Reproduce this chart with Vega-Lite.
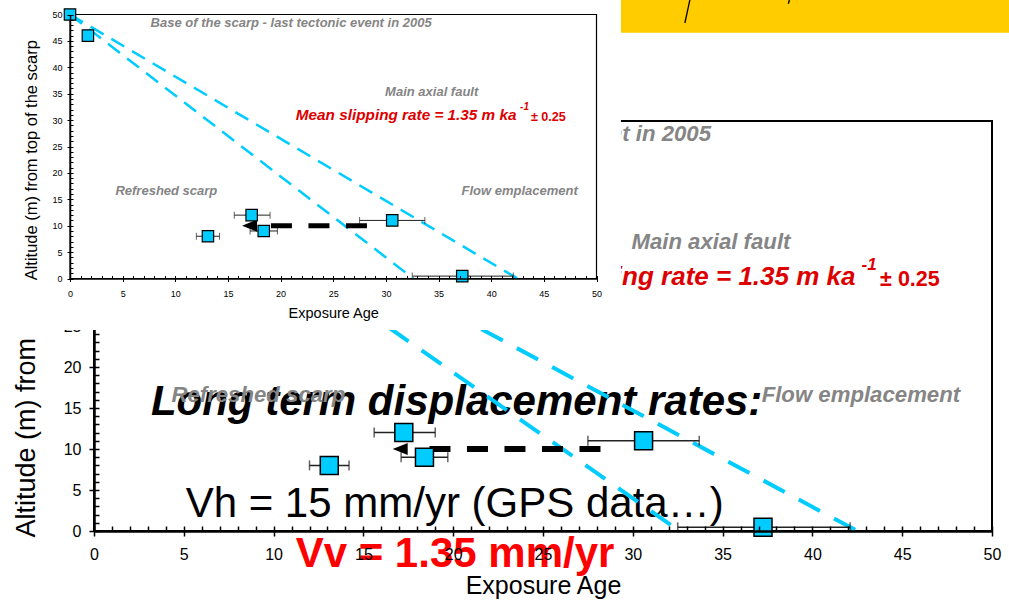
{
  "$schema": "https://vega.github.io/schema/vega-lite/v6.json",
  "width": 898,
  "height": 410,
  "autosize": "none",
  "padding": {"left": 94, "top": 121, "right": 17, "bottom": 75},
  "background": "white",
  "config": {
    "font": "Liberation Sans",
    "view": {"stroke": "black", "strokeWidth": 2},
    "axis": {"grid": false, "domainColor": "black", "tickColor": "black", "labelColor": "black", "titleColor": "black", "titleFontWeight": "normal", "labelFont": "Liberation Sans", "titleFont": "Liberation Sans", "labelOverlap": false, "labelFlush": false}
  },
  "datasets": {
    "points": [
      {"age": 0, "alt": 50}, {"age": 1.7, "alt": 46}, {"age": 13.1, "alt": 8}, {"age": 17.25, "alt": 12},
      {"age": 18.4, "alt": 9}, {"age": 30.6, "alt": 11}, {"age": 37.25, "alt": 0.45}
    ],
    "errors": [
      {"age": 13.1, "alt": 8, "lo": 12.0, "hi": 14.2},
      {"age": 17.25, "alt": 12, "lo": 15.6, "hi": 19.0},
      {"age": 18.4, "alt": 9, "lo": 17.1, "hi": 19.7},
      {"age": 30.6, "alt": 11, "lo": 27.5, "hi": 33.7},
      {"age": 37.25, "alt": 0.45, "lo": 32.5, "hi": 42.1}
    ],
    "rates": [
      {"bound": "max rate", "age": 0, "alt": 50}, {"bound": "max rate", "age": 32.6, "alt": 0},
      {"bound": "min rate", "age": 0, "alt": 50}, {"bound": "min rate", "age": 42.5, "alt": 0}
    ],
    "shift": [{"age": 17.8, "alt": 10}, {"age": 28.2, "alt": 10}],
    "shiftHead": [{"age": 17.05, "alt": 10}],
    "notes": [
      {"label": "Base of the scarp - last tectonic event in 2005", "age": 21.0, "alt": 48.45},
      {"label": "Main axial fault", "age": 34.35, "alt": 35.3},
      {"label": "Refreshed scarp", "age": 9.15, "alt": 16.6},
      {"label": "Flow emplacement", "age": 42.7, "alt": 16.6}
    ],
    "rateNote": [{"label": "Mean slipping rate = 1.35 m ka", "age": 42.4, "alt": 30.92}],
    "rateSup": [{"label": "-1", "age": 42.74, "alt": 32.4}],
    "rateErr": [{"label": "± 0.25", "age": 43.77, "alt": 30.65}]
  },
  "layer": [
    {
      "layer": [
        {
          "data": {"values": [{"label": "Long term displacement rates:"}]},
          "mark": {"type": "text", "fontSize": 42, "fontWeight": "bold", "fontStyle": "italic", "align": "center", "baseline": "alphabetic", "color": "black"},
          "encoding": {"x": {"datum": 20.19, "axis": null}, "y": {"datum": 14.11, "axis": null}, "text": {"field": "label"}}
        },
        {
          "data": {"values": [{"label": "Vh = 15 mm/yr (GPS data…)"}]},
          "mark": {"type": "text", "fontSize": 42, "align": "center", "baseline": "alphabetic", "color": "black"},
          "encoding": {"x": {"datum": 20.08, "axis": null}, "y": {"datum": 1.67, "axis": null}, "text": {"field": "label"}}
        },
        {
          "data": {"values": [{"label": "Vv = 1.35 mm/yr"}]},
          "mark": {"type": "text", "fontSize": 42, "fontWeight": "bold", "align": "center", "baseline": "alphabetic", "color": "#FF0000"},
          "encoding": {"x": {"datum": 20.1, "axis": null}, "y": {"datum": -4.43, "axis": null}, "text": {"field": "label"}}
        },
        {
          "data": {"name": "rates"},
          "mark": {"type": "line", "color": "#00CCFF", "strokeWidth": 4, "strokeDash": [24, 16]},
          "encoding": {
            "x": {"field": "age", "type": "quantitative", "scale": {"domain": [0, 50], "nice": false, "zero": false},
              "axis": {"orient": "bottom", "title": "Exposure Age", "values": [0,5,10,15,20,25,30,35,40,45,50],
                "tickSize": 5, "tickWidth": 1.5, "domainWidth": 2.5, "labelFontSize": 16, "labelPadding": 10, "titleFontSize": 25, "titleY": 54, "titleBaseline": "middle", "zindex": 1}},
            "y": {"field": "alt", "type": "quantitative", "scale": {"domain": [0, 50], "nice": false, "zero": false},
              "axis": {"orient": "left", "title": "Altitude (m) from top of the scarp", "values": [0,5,10,15,20,25,30,35,40,45,50],
                "tickSize": 5, "tickWidth": 1.5, "domainWidth": 2.5, "labelFontSize": 16, "labelPadding": 8, "titleFontSize": 27, "titleX": -68, "titleY": 219.5, "titleBaseline": "middle", "titleAlign": "center", "titleAngle": -90, "zindex": 0}},
            "detail": {"field": "bound"}
          }
        },
        {
          "data": {"name": "errors"},
          "mark": {"type": "rule", "color": "#222222", "strokeWidth": 1.5},
          "encoding": {
            "x": {"field": "lo", "type": "quantitative",
              "axis": {"orient": "top", "offset": -410, "title": null, "labels": false, "domain": false, "values": [0,1,2,3,4,5,6,7,8,9,10,11,12,13,14,15,16,17,18,19,20,21,22,23,24,25,26,27,28,29,30,31,32,33,34,35,36,37,38,39,40,41,42,43,44,45,46,47,48,49,50], "tickSize": 5, "tickWidth": 1.5, "zindex": 1}},
            "x2": {"field": "hi"},
            "y": {"field": "alt", "type": "quantitative",
              "axis": {"orient": "right", "offset": -898, "title": null, "labels": false, "domain": false, "values": [0,1,2,3,4,5,6,7,8,9,10,11,12,13,14,15,16,17,18,19,20,21,22,23,24,25,26,27,28,29,30,31,32,33,34,35,36,37,38,39,40,41,42,43,44,45,46,47,48,49,50], "tickSize": 5, "tickWidth": 1.5, "zindex": 0}}
          }
        },
        {
          "data": {"name": "errors"},
          "mark": {"type": "tick", "orient": "vertical", "color": "#222222", "size": 10, "thickness": 1.5},
          "encoding": {"x": {"field": "lo", "type": "quantitative", "axis": null}, "y": {"field": "alt", "type": "quantitative", "axis": null}}
        },
        {
          "data": {"name": "errors"},
          "mark": {"type": "tick", "orient": "vertical", "color": "#222222", "size": 10, "thickness": 1.5},
          "encoding": {"x": {"field": "hi", "type": "quantitative", "axis": null}, "y": {"field": "alt", "type": "quantitative", "axis": null}}
        },
        {
          "data": {"name": "shift"},
          "mark": {"type": "line", "color": "black", "strokeWidth": 6, "strokeDash": [21, 16.5]},
          "encoding": {"x": {"field": "age", "type": "quantitative", "axis": null}, "y": {"field": "alt", "type": "quantitative", "axis": null}, "order": {"field": "age", "sort": "descending"}}
        },
        {
          "data": {"name": "shiftHead"},
          "mark": {"type": "point", "shape": "M-1,0L1,-0.8L1,0.8Z", "size": 225, "filled": true, "color": "black", "opacity": 1},
          "encoding": {"x": {"field": "age", "type": "quantitative", "axis": null}, "y": {"field": "alt", "type": "quantitative", "axis": null}}
        },
        {
          "data": {"name": "points"},
          "mark": {"type": "point", "shape": "square", "size": 324, "filled": true, "fill": "#00CCFF", "stroke": "black", "strokeWidth": 1.5, "opacity": 1},
          "encoding": {"x": {"field": "age", "type": "quantitative", "axis": null}, "y": {"field": "alt", "type": "quantitative", "axis": null}}
        },
        {
          "data": {"name": "notes"},
          "mark": {"type": "text", "fontSize": 22.2, "fontWeight": "bold", "fontStyle": "italic", "color": "#858585", "align": "center", "baseline": "middle"},
          "encoding": {"x": {"field": "age", "type": "quantitative", "axis": null}, "y": {"field": "alt", "type": "quantitative", "axis": null}, "text": {"field": "label"}}
        },
        {
          "data": {"name": "rateNote"},
          "mark": {"type": "text", "fontSize": 26, "fontWeight": "bold", "fontStyle": "italic", "color": "#DD0000", "align": "right", "baseline": "middle"},
          "encoding": {"x": {"field": "age", "type": "quantitative", "axis": null}, "y": {"field": "alt", "type": "quantitative", "axis": null}, "text": {"field": "label"}}
        },
        {
          "data": {"name": "rateSup"},
          "mark": {"type": "text", "fontSize": 17, "fontWeight": "bold", "fontStyle": "italic", "color": "#DD0000", "align": "left", "baseline": "middle"},
          "encoding": {"x": {"field": "age", "type": "quantitative", "axis": null}, "y": {"field": "alt", "type": "quantitative", "axis": null}, "text": {"field": "label"}}
        },
        {
          "data": {"name": "rateErr"},
          "mark": {"type": "text", "fontSize": 21.5, "fontWeight": "bold", "color": "#DD0000", "align": "left", "baseline": "middle"},
          "encoding": {"x": {"field": "age", "type": "quantitative", "axis": null}, "y": {"field": "alt", "type": "quantitative", "axis": null}, "text": {"field": "label"}}
        },
        {
          "data": {"values": [{}]},
          "mark": {"type": "rect", "fill": "white"},
          "encoding": {"x": {"datum": -6, "axis": null}, "x2": {"datum": 29.34}, "y": {"datum": 66, "axis": null}, "y2": {"datum": 24.5}}
        },
        {
          "data": {"values": [{}]},
          "mark": {"type": "rect", "fill": "#FFCC00"},
          "encoding": {"x": {"datum": 29.34, "axis": null}, "x2": {"datum": 52}, "y": {"datum": 66, "axis": null}, "y2": {"datum": 60.75}}
        },
        {
          "data": {"values": [{}]},
          "mark": {"type": "rule", "color": "black", "strokeWidth": 1.3},
          "encoding": {"x": {"datum": 32.9, "axis": null}, "x2": {"datum": 33.2}, "y": {"datum": 61.95, "axis": null}, "y2": {"datum": 65}}
        },
        {
          "data": {"values": [{}]},
          "mark": {"type": "rule", "color": "black", "strokeWidth": 1.3},
          "encoding": {"x": {"datum": 38.66, "axis": null}, "x2": {"datum": 38.75}, "y": {"datum": 64.3, "axis": null}, "y2": {"datum": 65}}
        }
      ]
    },
    {
      "layer": [
        {
          "data": {"values": [{}]},
          "mark": {"type": "rect", "fillOpacity": 0, "stroke": "black", "strokeWidth": 1.2},
          "encoding": {"x": {"datum": 0, "axis": null}, "x2": {"datum": 50}, "y": {"datum": 0, "axis": null}, "y2": {"datum": 50}}
        },
        {
          "data": {"name": "rates"},
          "mark": {"type": "line", "color": "#00CCFF", "strokeWidth": 2.5, "strokeDash": [15, 9]},
          "encoding": {
            "x": {"field": "age", "type": "quantitative", "scale": {"domain": [0, 50], "range": [-24, 502.5], "nice": false, "zero": false},
              "axis": {"orient": "bottom", "offset": -252.5, "title": "Exposure Age", "values": [0,5,10,15,20,25,30,35,40,45,50],
                "tickSize": 3, "tickWidth": 1, "domainWidth": 1.5, "labelFontSize": 9, "labelPadding": 8, "titleFontSize": 14.5, "titleY": 34.5, "titleBaseline": "middle", "zindex": 1}},
            "y": {"field": "alt", "type": "quantitative", "scale": {"domain": [0, 50], "range": [157.5, -106.5], "nice": false, "zero": false},
              "axis": {"orient": "left", "offset": 24, "title": "Altitude (m) from top of the scarp", "values": [0,5,10,15,20,25,30,35,40,45,50],
                "tickSize": 3, "tickWidth": 1, "domainWidth": 1.5, "labelFontSize": 9, "labelPadding": 5, "titleFontSize": 16.5, "titleX": -39, "titleY": 38.7, "titleBaseline": "middle", "titleAlign": "center", "titleAngle": -90, "zindex": 1}},
            "detail": {"field": "bound"}
          }
        },
        {
          "data": {"name": "errors"},
          "mark": {"type": "rule", "color": "#222222", "strokeWidth": 1},
          "encoding": {
            "x": {"field": "lo", "type": "quantitative",
              "axis": {"orient": "top", "offset": -157.5, "title": null, "labels": false, "domain": false, "values": [0,1,2,3,4,5,6,7,8,9,10,11,12,13,14,15,16,17,18,19,20,21,22,23,24,25,26,27,28,29,30,31,32,33,34,35,36,37,38,39,40,41,42,43,44,45,46,47,48,49,50], "tickSize": 3, "tickWidth": 1, "zindex": 1}},
            "x2": {"field": "hi"},
            "y": {"field": "alt", "type": "quantitative",
              "axis": {"orient": "right", "offset": -922, "title": null, "labels": false, "domain": false, "values": [0,1,2,3,4,5,6,7,8,9,10,11,12,13,14,15,16,17,18,19,20,21,22,23,24,25,26,27,28,29,30,31,32,33,34,35,36,37,38,39,40,41,42,43,44,45,46,47,48,49,50], "tickSize": 3, "tickWidth": 1, "zindex": 1}}
          }
        },
        {
          "data": {"name": "errors"},
          "mark": {"type": "tick", "orient": "vertical", "color": "#222222", "size": 7, "thickness": 1},
          "encoding": {"x": {"field": "lo", "type": "quantitative", "axis": null}, "y": {"field": "alt", "type": "quantitative", "axis": null}}
        },
        {
          "data": {"name": "errors"},
          "mark": {"type": "tick", "orient": "vertical", "color": "#222222", "size": 7, "thickness": 1},
          "encoding": {"x": {"field": "hi", "type": "quantitative", "axis": null}, "y": {"field": "alt", "type": "quantitative", "axis": null}}
        },
        {
          "data": {"name": "shift"},
          "mark": {"type": "line", "color": "black", "strokeWidth": 5, "strokeDash": [21, 16.5]},
          "encoding": {"x": {"field": "age", "type": "quantitative", "axis": null}, "y": {"field": "alt", "type": "quantitative", "axis": null}, "order": {"field": "age", "sort": "descending"}}
        },
        {
          "data": {"name": "shiftHead"},
          "mark": {"type": "point", "shape": "M-1,0L1,-0.8L1,0.8Z", "size": 225, "filled": true, "color": "black", "opacity": 1},
          "encoding": {"x": {"field": "age", "type": "quantitative", "axis": null}, "y": {"field": "alt", "type": "quantitative", "axis": null}}
        },
        {
          "data": {"name": "points"},
          "mark": {"type": "point", "shape": "square", "size": 130, "filled": true, "fill": "#00CCFF", "stroke": "black", "strokeWidth": 1.2, "opacity": 1},
          "encoding": {"x": {"field": "age", "type": "quantitative", "axis": null}, "y": {"field": "alt", "type": "quantitative", "axis": null}}
        },
        {
          "data": {"name": "notes"},
          "mark": {"type": "text", "fontSize": 13, "fontWeight": "bold", "fontStyle": "italic", "color": "#858585", "align": "center", "baseline": "middle"},
          "encoding": {"x": {"field": "age", "type": "quantitative", "axis": null}, "y": {"field": "alt", "type": "quantitative", "axis": null}, "text": {"field": "label"}}
        },
        {
          "data": {"name": "rateNote"},
          "mark": {"type": "text", "fontSize": 15.3, "fontWeight": "bold", "fontStyle": "italic", "color": "#DD0000", "align": "right", "baseline": "middle"},
          "encoding": {"x": {"field": "age", "type": "quantitative", "axis": null}, "y": {"field": "alt", "type": "quantitative", "axis": null}, "text": {"field": "label"}}
        },
        {
          "data": {"name": "rateSup"},
          "mark": {"type": "text", "fontSize": 10, "fontWeight": "bold", "fontStyle": "italic", "color": "#DD0000", "align": "left", "baseline": "middle"},
          "encoding": {"x": {"field": "age", "type": "quantitative", "axis": null}, "y": {"field": "alt", "type": "quantitative", "axis": null}, "text": {"field": "label"}}
        },
        {
          "data": {"name": "rateErr"},
          "mark": {"type": "text", "fontSize": 12.6, "fontWeight": "bold", "color": "#DD0000", "align": "left", "baseline": "middle"},
          "encoding": {"x": {"field": "age", "type": "quantitative", "axis": null}, "y": {"field": "alt", "type": "quantitative", "axis": null}, "text": {"field": "label"}}
        }
      ]
    }
  ],
  "resolve": {"scale": {"x": "independent", "y": "independent"}}
}
